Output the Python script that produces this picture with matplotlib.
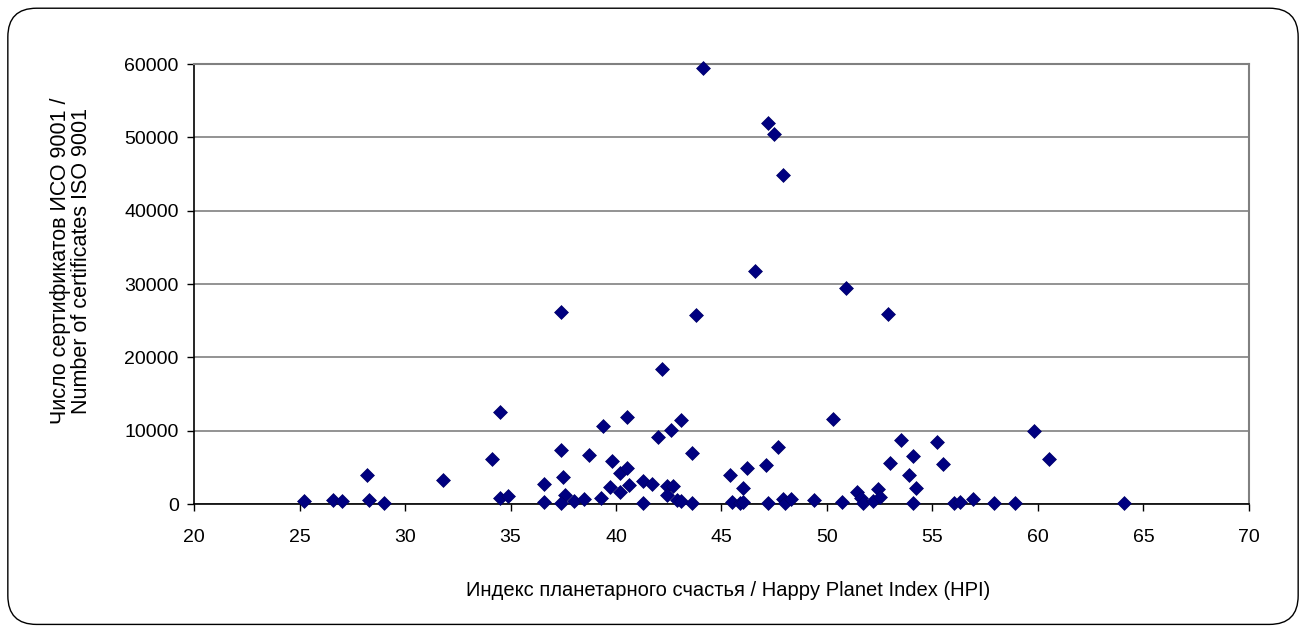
import matplotlib
matplotlib.use("Agg")
import matplotlib.pyplot as plt
from matplotlib.patches import FancyBboxPatch

plt.rcParams['font.family'] = ['Liberation Sans', 'DejaVu Sans']

# HPI vs number of ISO 9001 certificates
hpi = [25.2, 26.6, 27.0, 28.2, 28.3, 29.0, 31.8, 34.1, 34.5, 34.5, 34.9,
       37.4, 37.4, 37.5, 36.6, 36.6, 37.6, 37.4, 38.0, 38.5, 39.4, 40.5,
       38.7, 39.8, 40.2, 40.5, 39.7, 40.2, 40.6, 39.3, 41.3, 41.3, 41.7,
       42.0, 42.6, 43.1, 43.6, 42.4, 42.7, 42.4, 42.9, 43.1, 43.6, 45.4,
       45.5, 45.9, 46.0, 46.0, 46.2, 47.1, 47.7, 47.2, 47.9, 48.0, 48.3,
       49.4, 50.3, 50.7, 51.4, 51.6, 51.7, 52.2, 52.4, 52.5, 53.0, 53.5,
       54.1, 53.9, 54.2, 54.1, 55.2, 55.5, 56.0, 56.3, 56.9, 57.9, 58.9,
       59.8, 60.5, 64.1, 44.1, 47.2, 47.5, 47.9, 46.6, 50.9, 43.8, 52.9,
       42.2]
certs = [450, 550, 400, 3900, 500, 150, 3230, 6130, 12500, 780, 1100,
         26240, 7330, 3680, 2770, 230, 1190, 100, 450, 640, 10700, 11800,
         6680, 5870, 4270, 4870, 2360, 1590, 2550, 820, 180, 3140, 2770,
         9180, 10100, 11460, 6910, 2410, 2450, 1190, 550, 450, 180, 3900,
         230, 180, 270, 2220, 4870, 5320, 7820, 100, 720, 180, 640,
         550, 11600, 230, 1680, 780, 180, 450, 2000, 1000, 5550, 8730,
         6590, 4000, 2140, 140, 8420, 5410, 180, 270, 640, 140, 180,
         9960, 6180, 180, 59500, 52000, 50500, 44900, 31800, 29500, 25800, 25900,
         18400]

x_ticks = [20, 25, 30, 35, 40, 45, 50, 55, 60, 65, 70]
y_ticks = [0, 10000, 20000, 30000, 40000, 50000, 60000]

fig = plt.figure(figsize=(13.06, 6.32), dpi=100)
ax = fig.add_axes([0.1486, 0.2025, 0.8077, 0.6962])

frame = FancyBboxPatch((0.006, 0.012), 0.988, 0.975,
                       boxstyle="round,pad=0,rounding_size=0.022",
                       transform=fig.transFigure, facecolor='none',
                       edgecolor='black', linewidth=1.0, mutation_aspect=2.07)
fig.patches.append(frame)

ax.scatter(hpi, certs, marker='D', s=50, color='#000080',
           edgecolor='#000066', linewidth=0.5, zorder=3, clip_on=False)

ax.set_xlim(20, 70)
ax.set_ylim(0, 60000)
ax.set_xticks(x_ticks)
ax.set_yticks(y_ticks)
ax.yaxis.grid(True, color='#808080', linewidth=1.2)
ax.set_axisbelow(True)

for side in ['top', 'right']:
    ax.spines[side].set_color('#808080')
    ax.spines[side].set_linewidth(1.5)
for side in ['left', 'bottom']:
    ax.spines[side].set_color('black')
    ax.spines[side].set_linewidth(1.2)

ax.tick_params(direction='out', length=5, width=1, labelsize=14)
ax.tick_params(axis='x', pad=13)
ax.tick_params(axis='y', pad=6)

ax.set_xlabel('Индекс планетарного счастья / Happy Planet Index (HPI)',
              fontsize=14.5)
ax.set_ylabel('Число сертификатов ИСО 9001 /\nNumber of certificates ISO 9001',
              fontsize=15.5, linespacing=1.0)
ax.xaxis.set_label_coords(0.506, -0.176)
ax.yaxis.set_label_coords(-0.097, 0.552)

fig.savefig('out.png', dpi=100)
